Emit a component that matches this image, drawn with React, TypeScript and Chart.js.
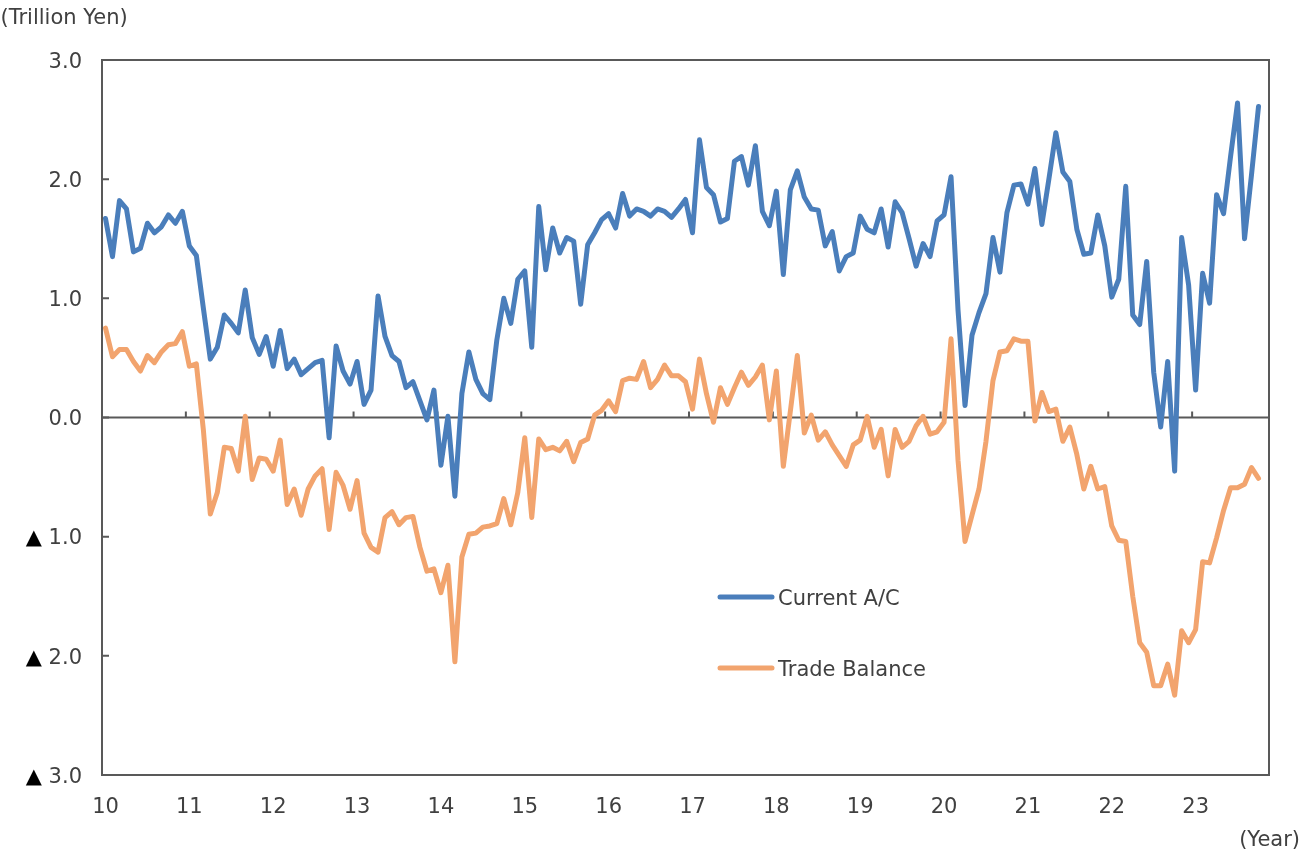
import { useEffect, useRef } from "react";
import { Chart, registerables } from "chart.js";

Chart.register(...registerables);

// Year tick labels (2010 – 2023)
const yearLabels = ["10", "11", "12", "13", "14", "15", "16", "17", "18", "19", "20", "21", "22", "23"];
const monthNames = ["01", "02", "03", "04", "05", "06", "07", "08", "09", "10", "11", "12"];
// The axis runs from Jan 2010 to Nov 2023 (167 monthly categories); data ends Oct 2023.
const AXIS_MONTHS = 167;
const categories = yearLabels
  .flatMap((y) => monthNames.map((m) => `${y}/${m}`))
  .slice(0, AXIS_MONTHS);

// Current account balance, trillion yen (monthly, Jan 2010 – Oct 2023)
const currentAccount = [
  // 2010
  1.67, 1.35, 1.82, 1.75, 1.39, 1.42, 1.63, 1.55, 1.6, 1.7, 1.63, 1.73,
  // 2011
  1.44, 1.36, 0.92, 0.49, 0.59, 0.86, 0.79, 0.71, 1.07, 0.67, 0.53, 0.68,
  // 2012
  0.43, 0.73, 0.41, 0.49, 0.36, 0.41, 0.46, 0.48, -0.17, 0.6, 0.39, 0.28,
  // 2013
  0.47, 0.11, 0.23, 1.02, 0.68, 0.52, 0.47, 0.25, 0.3, 0.14, -0.02, 0.23,
  // 2014
  -0.4, 0.01, -0.66, 0.2, 0.55, 0.32, 0.2, 0.15, 0.65, 1.0, 0.79, 1.16,
  // 2015
  1.23, 0.59, 1.77, 1.24, 1.59, 1.38, 1.51, 1.48, 0.95, 1.45, 1.55, 1.66,
  // 2016
  1.71, 1.59, 1.88, 1.69, 1.75, 1.73, 1.69, 1.75, 1.73, 1.68, 1.75, 1.83,
  // 2017
  1.55, 2.33, 1.93, 1.87, 1.64, 1.67, 2.15, 2.19, 1.95, 2.28, 1.73, 1.61,
  // 2018
  1.9, 1.2, 1.91, 2.07, 1.85, 1.75, 1.74, 1.44, 1.56, 1.23, 1.35, 1.38,
  // 2019
  1.69, 1.58, 1.55, 1.75, 1.43, 1.81, 1.72, 1.5, 1.27, 1.46, 1.35, 1.65,
  // 2020
  1.7, 2.02, 0.9, 0.1, 0.69, 0.88, 1.04, 1.51, 1.22, 1.72, 1.95, 1.96,
  // 2021
  1.79, 2.09, 1.62, 2.0, 2.39, 2.06, 1.98, 1.58, 1.37, 1.38, 1.7, 1.44,
  // 2022
  1.01, 1.16, 1.94, 0.86, 0.78, 1.31, 0.38, -0.08, 0.47, -0.45, 1.51, 1.11,
  // 2023
  0.23, 1.21, 0.96, 1.87, 1.71, 2.19, 2.64, 1.5, 2.04, 2.61,
];

// Trade balance, trillion yen (monthly, Jan 2010 – Oct 2023)
const tradeBalance = [
  // 2010
  0.75, 0.51, 0.57, 0.57, 0.47, 0.39, 0.52, 0.46, 0.55, 0.61, 0.62, 0.72,
  // 2011
  0.43, 0.45, -0.1, -0.81, -0.63, -0.25, -0.26, -0.45, 0.01, -0.52, -0.34, -0.35,
  // 2012
  -0.45, -0.19, -0.73, -0.6, -0.82, -0.6, -0.49, -0.43, -0.94, -0.46, -0.57, -0.77,
  // 2013
  -0.53, -0.97, -1.09, -1.13, -0.84, -0.79, -0.9, -0.84, -0.83, -1.09, -1.29, -1.27,
  // 2014
  -1.47, -1.24, -2.05, -1.17, -0.98, -0.97, -0.92, -0.91, -0.89, -0.68, -0.9, -0.63,
  // 2015
  -0.17, -0.84, -0.18, -0.27, -0.25, -0.28, -0.2, -0.37, -0.21, -0.18, 0.02, 0.06,
  // 2016
  0.14, 0.05, 0.31, 0.33, 0.32, 0.47, 0.25, 0.32, 0.44, 0.35, 0.35, 0.3,
  // 2017
  0.07, 0.49, 0.2, -0.04, 0.25, 0.11, 0.25, 0.38, 0.27, 0.34, 0.44, -0.02,
  // 2018
  0.39, -0.41, 0.05, 0.52, -0.13, 0.02, -0.19, -0.12, -0.23, -0.32, -0.41, -0.23,
  // 2019
  -0.19, 0.01, -0.25, -0.1, -0.49, -0.1, -0.25, -0.2, -0.07, 0.01, -0.14, -0.12,
  // 2020
  -0.04, 0.66, -0.36, -1.04, -0.82, -0.6, -0.2, 0.31, 0.55, 0.56, 0.66, 0.64,
  // 2021
  0.64, -0.03, 0.21, 0.05, 0.07, -0.2, -0.08, -0.31, -0.6, -0.41, -0.6, -0.58,
  // 2022
  -0.91, -1.03, -1.04, -1.5, -1.89, -1.97, -2.25, -2.25, -2.07, -2.33, -1.79, -1.89,
  // 2023
  -1.78, -1.21, -1.22, -1.01, -0.78, -0.59, -0.59, -0.56, -0.42, -0.51,
];

const yTicks = [3, 2, 1, 0, -1, -2, -3];
const seriesNames = ["Current A/C", "Trade Balance"];
const seriesColors = ["#4A7EBB", "#F2A46E"];

const FONT = '21px "DejaVu Sans", Verdana, sans-serif';
const TEXT = "#404040";
const AXIS = "#595959";

const decorPlugin = {
  id: "decor",
  beforeDatasetsDraw(chart: any) {
    const { ctx, chartArea: a, scales } = chart;
    const x = scales.x;
    const y = scales.y;
    ctx.save();
    ctx.strokeStyle = AXIS;
    ctx.lineWidth = 2;
    ctx.lineCap = "butt";
    // plot frame
    ctx.strokeRect(a.left, a.top, a.right - a.left, a.bottom - a.top);
    // zero line (horizontal axis)
    const y0 = y.getPixelForValue(0);
    ctx.beginPath();
    ctx.moveTo(a.left, y0);
    ctx.lineTo(a.right, y0);
    ctx.stroke();
    // inside ticks on value axis
    ctx.beginPath();
    for (const v of yTicks) {
      const py = y.getPixelForValue(v);
      ctx.moveTo(a.left, py);
      ctx.lineTo(a.left + 7, py);
    }
    ctx.stroke();
    // year-boundary ticks on the zero line
    ctx.beginPath();
    for (let i = 1; i < yearLabels.length; i++) {
      const idx = i * 12;
      const bx = (x.getPixelForValue(idx - 1) + x.getPixelForValue(idx)) / 2;
      ctx.moveTo(bx, y0);
      ctx.lineTo(bx, y0 - 6);
    }
    ctx.stroke();
    ctx.restore();
  },
  afterDatasetsDraw(chart: any) {
    const { ctx } = chart;
    ctx.save();
    const rows = [597, 668];
    chart.data.datasets.forEach((ds: any, i: number) => {
      const ly = rows[i];
      ctx.strokeStyle = ds.borderColor;
      ctx.lineWidth = 5;
      ctx.lineCap = "round";
      ctx.beginPath();
      ctx.moveTo(720, ly);
      ctx.lineTo(772, ly);
      ctx.stroke();
      ctx.font = FONT;
      ctx.fillStyle = TEXT;
      ctx.textAlign = "left";
      ctx.textBaseline = "alphabetic";
      ctx.fillText(ds.label, 778, ly + 7.5);
    });
    ctx.restore();
  },
  afterDraw(chart: any) {
    const { ctx, scales } = chart;
    const x = scales.x;
    const y = scales.y;
    ctx.save();
    ctx.font = FONT;
    ctx.textBaseline = "alphabetic";
    // value-axis labels
    for (const v of yTicks) {
      const py = y.getPixelForValue(v) + 7.7;
      const num = Math.abs(v).toFixed(1);
      ctx.textAlign = "right";
      ctx.fillStyle = TEXT;
      ctx.fillText(num, 82, py);
      if (v < 0) {
        const w = ctx.measureText(num).width;
        ctx.fillStyle = "#000000";
        ctx.fillText("▲ ", 82 - w, py);
      }
    }
    // year labels
    ctx.textAlign = "center";
    ctx.fillStyle = TEXT;
    yearLabels.forEach((lab, i) => {
      ctx.fillText(lab, x.getPixelForValue(i * 12), 812.5);
    });
    // axis titles
    ctx.textAlign = "left";
    ctx.fillText("(Trillion Yen)", 0.5, 23.5);
    ctx.textAlign = "right";
    ctx.fillText("(Year)", 1300, 845.5);
    ctx.restore();
  },
};

export default function App() {
  const canvasRef = useRef<HTMLCanvasElement | null>(null);

  useEffect(() => {
    const canvas = canvasRef.current;
    if (!canvas) return;
    const chart = new Chart(canvas, {
      type: "line",
      data: {
        labels: categories,
        datasets: [
          {
            label: seriesNames[0],
            data: currentAccount,
            borderColor: seriesColors[0],
            backgroundColor: seriesColors[0],
            borderWidth: 5,
            pointRadius: 0,
            tension: 0,
            borderCapStyle: "round",
            borderJoinStyle: "round",
          },
          {
            label: seriesNames[1],
            data: tradeBalance,
            borderColor: seriesColors[1],
            backgroundColor: seriesColors[1],
            borderWidth: 5,
            pointRadius: 0,
            tension: 0,
            borderCapStyle: "round",
            borderJoinStyle: "round",
          },
        ],
      },
      options: {
        responsive: false,
        animation: false,
        layout: { padding: { left: 102, right: 32, top: 60, bottom: 75 } },
        plugins: {
          legend: { display: false },
          tooltip: { enabled: false },
        },
        scales: {
          x: {
            type: "category",
            display: false,
            offset: true,
          },
          y: {
            display: false,
            min: -3,
            max: 3,
          },
        },
      },
      plugins: [decorPlugin],
    });
    return () => chart.destroy();
  }, []);

  return (
    <div style={{ position: "fixed", left: 0, top: 0, width: 1301, height: 850, background: "#ffffff" }}>
      <canvas ref={canvasRef} width={1301} height={850} style={{ display: "block" }} />
    </div>
  );
}
